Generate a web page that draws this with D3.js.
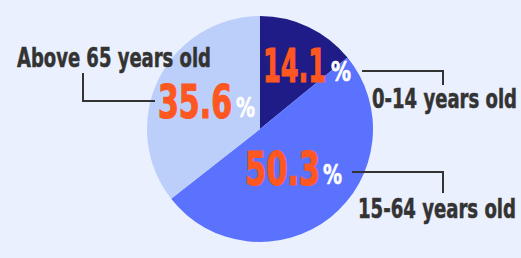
<!DOCTYPE html>
<html>
<head>
<meta charset="utf-8">
<script src="https://cdn.jsdelivr.net/npm/d3@7"></script>
<style>
  html, body { margin: 0; padding: 0; background: #ebf0fe; }
  svg { display: block; }
  text { font-family: "DejaVu Sans Condensed", "Liberation Sans", sans-serif; font-weight: bold; }
</style>
</head>
<body>
<svg id="chart" width="521" height="258"></svg>
<script>
// age groups, share of population (%)
const categories = ['0-14 years old', '15-64 years old', 'Above 65 years old'];
const values = [14.1, 50.3, 35.6];
const sliceColors = ['#1f1b87', '#5b72fe', '#bccffa'];

// label placement (layout only): [x, baseline y, width]
const numberPos = [[263, 82, 63], [245, 185, 75], [158, 118, 74]];
const percentPos = [[331, 81, 20], [323, 184, 19], [236, 117, 19]];
const labelPos = [[372, 108, 145], [358, 218, 158], [17, 67, 194]];
const leaders = [
  [[362, 71], [443, 71], [443, 85]],
  [[352, 172], [443, 172], [443, 193]],
  [[83, 73], [83, 101], [155, 101]]
];

const svg = d3.select('#chart');
const cx = 260, cy = 129, radius = 113;

const data = categories.map((c, i) => ({ label: c, value: values[i] }));

const pie = d3.pie().value(d => d.value).sort(null);
const arcGenerator = d3.arc().innerRadius(0).outerRadius(radius);
const color = d3.scaleOrdinal().domain(categories).range(sliceColors);

svg.append('g')
  .attr('transform', `translate(${cx}, ${cy})`)
  .selectAll('path')
  .data(pie(data))
  .enter()
  .append('path')
  .attr('d', arcGenerator)
  .attr('fill', d => color(d.data.label));

// leader lines
const line = d3.line();
svg.selectAll('path.leader')
  .data(leaders)
  .enter()
  .append('path')
  .attr('class', 'leader')
  .attr('d', line)
  .attr('fill', 'none')
  .attr('stroke', '#333333')
  .attr('stroke-width', 2);

// category labels
svg.selectAll('text.cat')
  .data(data)
  .enter()
  .append('text')
  .attr('class', 'cat')
  .attr('x', (d, i) => labelPos[i][0])
  .attr('y', (d, i) => labelPos[i][1])
  .attr('textLength', (d, i) => labelPos[i][2])
  .attr('lengthAdjust', 'spacingAndGlyphs')
  .attr('fill', '#333333')
  .attr('stroke', '#333333')
  .attr('stroke-width', 0.5)
  .attr('font-size', 26)
  .text(d => d.label);

// percentage numbers
svg.selectAll('text.num')
  .data(data)
  .enter()
  .append('text')
  .attr('class', 'num')
  .attr('x', (d, i) => numberPos[i][0])
  .attr('y', (d, i) => numberPos[i][1])
  .attr('textLength', (d, i) => numberPos[i][2])
  .attr('lengthAdjust', 'spacingAndGlyphs')
  .attr('fill', '#ff5722')
  .attr('stroke', '#ff5722')
  .attr('stroke-width', 1.2)
  .attr('font-size', 46)
  .text(d => d3.format('.1f')(d.value));

svg.selectAll('text.pct')
  .data(data)
  .enter()
  .append('text')
  .attr('class', 'pct')
  .attr('x', (d, i) => percentPos[i][0])
  .attr('y', (d, i) => percentPos[i][1])
  .attr('textLength', (d, i) => percentPos[i][2])
  .attr('lengthAdjust', 'spacingAndGlyphs')
  .attr('fill', '#ffffff')
  .attr('stroke', '#ffffff')
  .attr('stroke-width', 0.6)
  .attr('font-size', 27)
  .text('%');
</script>
</body>
</html>
